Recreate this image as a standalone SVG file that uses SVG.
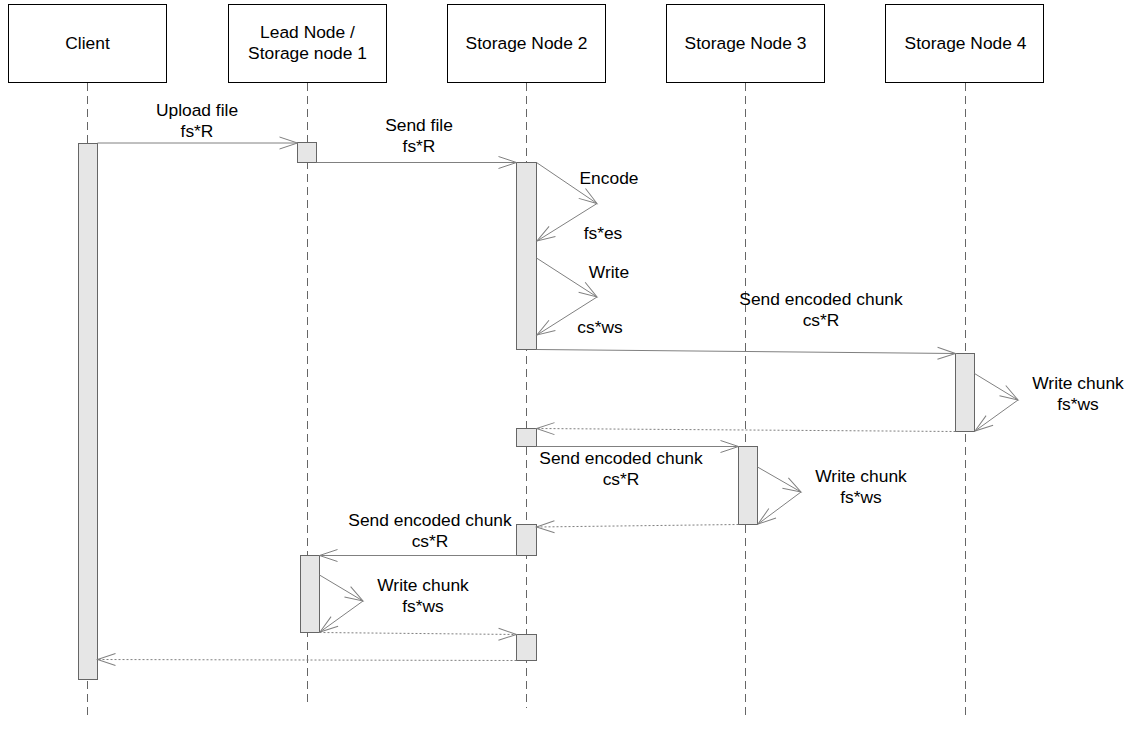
<svg xmlns="http://www.w3.org/2000/svg" width="1130" height="736" viewBox="0 0 1130 736">
<style>
.hdr{fill:#fff;stroke:#000;stroke-width:1}
.life{stroke:#666;stroke-width:1;stroke-dasharray:8 5;fill:none}
.bar{fill:#e6e6e6;stroke:#666;stroke-width:1}
.msg{stroke:#808080;stroke-width:1;fill:none;marker-end:url(#arr)}
.ret{stroke:#808080;stroke-width:1;fill:none;stroke-dasharray:2 2;marker-end:url(#arr)}
text{font-family:"Liberation Sans",Arial,sans-serif;font-size:17.4px;fill:#000;text-anchor:middle}
</style>
<defs>
<marker id="arr" markerUnits="userSpaceOnUse" markerWidth="20" markerHeight="14" refX="18" refY="6" orient="auto" overflow="visible">
<path d="M0,0 L18,6 L0,12" fill="none" stroke="#808080" stroke-width="1"/>
</marker>
</defs>
<rect width="1130" height="736" fill="#fff"/>
<g id="lifelines">
<line class="life" x1="87.5" y1="83" x2="87.5" y2="718"/>
<line class="life" x1="307.5" y1="83" x2="307.5" y2="705"/>
<line class="life" x1="526.5" y1="83" x2="526.5" y2="708"/>
<line class="life" x1="745.5" y1="83" x2="745.5" y2="718"/>
<line class="life" x1="965.5" y1="83" x2="965.5" y2="720"/>
</g>
<g id="client"><rect class="hdr" x="8.5" y="4.5" width="158" height="78"/><text x="87.5" y="49">Client</text></g>
<g id="lead"><rect class="hdr" x="228.5" y="4.5" width="158" height="78"/><text x="307.5" y="38">Lead Node /</text><text x="307.5" y="59">Storage node 1</text></g>
<g id="node2"><rect class="hdr" x="447.5" y="4.5" width="158" height="78"/><text x="526.5" y="49">Storage Node 2</text></g>
<g id="node3"><rect class="hdr" x="666.5" y="4.5" width="158" height="78"/><text x="745.5" y="49">Storage Node 3</text></g>
<g id="node4"><rect class="hdr" x="885.5" y="4.5" width="158" height="78"/><text x="965.5" y="49">Storage Node 4</text></g>
<g id="activations">
<rect class="bar" x="78.5" y="143.5" width="19" height="536"/>
<rect class="bar" x="297.5" y="142.5" width="19" height="20"/>
<rect class="bar" x="516.5" y="162.5" width="20" height="187"/>
<rect class="bar" x="955.5" y="353.5" width="19" height="78"/>
<rect class="bar" x="516.5" y="428.5" width="20" height="18"/>
<rect class="bar" x="738.5" y="446.5" width="19" height="78"/>
<rect class="bar" x="516.5" y="524.5" width="20" height="31"/>
<rect class="bar" x="300.5" y="555.5" width="19" height="77"/>
<rect class="bar" x="516.5" y="634.5" width="20" height="26"/>
</g>
<g id="connectors">
<line class="msg" x1="97.5" y1="143" x2="297.5" y2="143"/>
<line class="msg" x1="316.5" y1="162.5" x2="516.5" y2="162.5"/>
<line class="msg" x1="536.5" y1="162.5" x2="597" y2="203.5"/>
<line class="msg" x1="597" y1="203.5" x2="537" y2="241"/>
<line class="msg" x1="536.5" y1="258" x2="597" y2="297"/>
<line class="msg" x1="597" y1="297" x2="537" y2="335"/>
<line class="msg" x1="536.5" y1="349.5" x2="955.5" y2="353.5"/>
<line class="msg" x1="974.5" y1="373.5" x2="1018" y2="400"/>
<line class="msg" x1="1018" y1="400" x2="975" y2="431"/>
<line class="ret" x1="955.5" y1="431.5" x2="536.5" y2="428.5"/>
<line class="msg" x1="536.5" y1="446.5" x2="738.5" y2="446.5"/>
<line class="msg" x1="757.5" y1="467" x2="801" y2="492"/>
<line class="msg" x1="801" y1="492" x2="758" y2="524"/>
<line class="ret" x1="738.5" y1="524.5" x2="536.5" y2="527"/>
<line class="msg" x1="516.5" y1="555.5" x2="319.5" y2="555.5"/>
<line class="msg" x1="319.5" y1="575" x2="363" y2="601"/>
<line class="msg" x1="363" y1="601" x2="320" y2="632"/>
<line class="ret" x1="319.5" y1="632.5" x2="516.5" y2="634.5"/>
<line class="ret" x1="516.5" y1="660.5" x2="97.5" y2="659.5"/>
</g>
<g id="labels">
<text x="197" y="116">Upload file</text><text x="197" y="137">fs*R</text>
<text x="419" y="131">Send file</text><text x="419" y="152">fs*R</text>
<text x="609" y="184">Encode</text><text x="603" y="239">fs*es</text>
<text x="609" y="278">Write</text><text x="600" y="333">cs*ws</text>
<text x="821" y="305">Send encoded chunk</text><text x="821" y="326">cs*R</text>
<text x="1078" y="389">Write chunk</text><text x="1078" y="410">fs*ws</text>
<text x="621" y="464">Send encoded chunk</text><text x="621" y="485">cs*R</text>
<text x="861" y="482">Write chunk</text><text x="861" y="503">fs*ws</text>
<text x="430" y="526">Send encoded chunk</text><text x="430" y="547">cs*R</text>
<text x="423" y="591">Write chunk</text><text x="423" y="612">fs*ws</text>
</g>
</svg>
